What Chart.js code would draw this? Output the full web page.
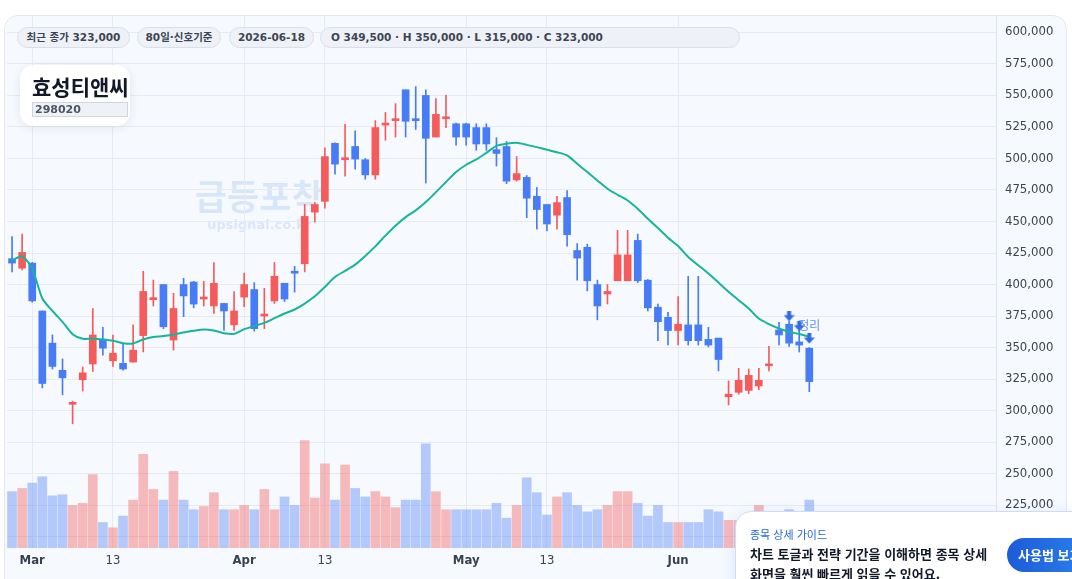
<!DOCTYPE html>
<html lang="ko">
<head>
<meta charset="utf-8">
<title>효성티앤씨 298020</title>
<script src="https://cdn.jsdelivr.net/npm/chart.js@4.4.1/dist/chart.umd.min.js"></script>
<style>
  html, body { margin: 0; padding: 0; }
  body { width: 1072px; height: 579px; overflow: hidden; position: relative; background: #fff;
         font-family: "DejaVu Sans", "Noto Sans CJK KR", sans-serif; }
  .card { position: absolute; left: 4px; top: 15px; width: 1063px; height: 620px; box-sizing: border-box;
          border: 1px solid #e3e8f0; border-radius: 14px; background: #f6f9fe; }
  .wm { position: absolute; left: 159px; top: 174px; width: 200px; text-align: center;
        color: rgba(59,130,246,0.16); font-weight: 700; }
  .wm .big { font-family: "Noto Sans CJK KR"; font-size: 35px; line-height: 41px; }
  .wm .small { font-family: "DejaVu Sans"; font-size: 13px; line-height: 16px; margin-top: 2px; }
  #chart { position: absolute; left: 0; top: 0; }
  .pill { position: absolute; top: 27px; height: 21px; box-sizing: border-box; border: 1px solid #d9dfe8;
          background: #eef2f7; border-radius: 11px; font-size: 10.5px; font-weight: 700; color: #3d4554;
          line-height: 19px; white-space: nowrap; text-align: center; }
  .title-box { position: absolute; left: 20px; top: 65px; width: 110px; height: 61px; border-radius: 14px;
               background: rgba(255,255,255,0.94); box-shadow: 0 2px 10px rgba(30,50,90,0.09); }
  .title-box .name { position: absolute; left: 12px; top: 9px; font-family: "Noto Sans CJK KR"; font-weight: 700;
                     font-size: 21px; line-height: 25px; color: #111827; }
  .title-box .code { position: absolute; left: 12px; top: 37px; width: 96px; height: 15px; box-sizing: border-box;
                     border: 1px solid #cfd6e0; background: #eef1f6; font-size: 11px; font-weight: 700;
                     color: #4b5565; line-height: 13px; padding-left: 2px; }
  .popup { position: absolute; left: 735px; top: 511px; width: 360px; height: 100px; box-sizing: border-box;
           background: #fff; border: 1px solid #cfdcf5; border-radius: 16px;
           box-shadow: 0 4px 16px rgba(37,99,235,0.13); font-family: "Noto Sans CJK KR"; }
  .popup .hd { position: absolute; left: 14px; top: 15px; font-size: 11px; line-height: 14px; color: #2563eb; }
  .popup .tx { position: absolute; left: 14px; top: 32px; font-size: 13px; line-height: 19.5px;
               font-weight: 700; color: #111827; white-space: nowrap; }
  .popup .btn { position: absolute; left: 271px; top: 26px; width: 110px; height: 34px; border-radius: 17px;
                background: linear-gradient(90deg, #1d5bd8, #2f8cf2); color: #fff; font-size: 13px;
                font-weight: 700; line-height: 34px; padding-left: 11px; box-sizing: border-box; }
</style>
</head>
<body>
<div class="card"></div>
<div class="wm"><div class="big">급등포착</div><div class="small">upsignal.co.kr</div></div>
<canvas id="chart" width="1072" height="579"></canvas>

<div class="pill" style="left:17px;width:113px">최근 종가 323,000</div>
<div class="pill" style="left:137px;width:84px">80일·신호기준</div>
<div class="pill" style="left:229px;width:85px">2026-06-18</div>
<div class="pill" style="left:320px;width:420px;text-align:left;padding-left:10px">O 349,500 · H 350,000 · L 315,000 · C 323,000</div>

<div class="title-box">
  <div class="name">효성티앤씨</div>
  <div class="code">298020</div>
</div>

<div class="popup">
  <div class="hd">종목 상세 가이드</div>
  <div class="tx">차트 토글과 전략 기간을 이해하면 종목 상세<br>화면을 훨씬 빠르게 읽을 수 있어요.</div>
  <div class="btn">사용법 보기</div>
</div>

<script>
/* ── 거래일 (80일) ── */
var dates = ['2026-02-26', '2026-02-27', '2026-03-03', '2026-03-04', '2026-03-05', '2026-03-06', '2026-03-09', '2026-03-10', '2026-03-11', '2026-03-12',
             '2026-03-13', '2026-03-16', '2026-03-17', '2026-03-18', '2026-03-19', '2026-03-20', '2026-03-23', '2026-03-24', '2026-03-25', '2026-03-26',
             '2026-03-27', '2026-03-30', '2026-03-31', '2026-04-01', '2026-04-02', '2026-04-03', '2026-04-06', '2026-04-07', '2026-04-08', '2026-04-09',
             '2026-04-10', '2026-04-13', '2026-04-14', '2026-04-15', '2026-04-16', '2026-04-17', '2026-04-20', '2026-04-21', '2026-04-22', '2026-04-23',
             '2026-04-24', '2026-04-27', '2026-04-28', '2026-04-29', '2026-04-30', '2026-05-01', '2026-05-04', '2026-05-05', '2026-05-06', '2026-05-07',
             '2026-05-08', '2026-05-11', '2026-05-12', '2026-05-13', '2026-05-14', '2026-05-15', '2026-05-18', '2026-05-19', '2026-05-20', '2026-05-21',
             '2026-05-22', '2026-05-25', '2026-05-26', '2026-05-27', '2026-05-28', '2026-05-29', '2026-06-01', '2026-06-02', '2026-06-03', '2026-06-04',
             '2026-06-05', '2026-06-08', '2026-06-09', '2026-06-10', '2026-06-11', '2026-06-12', '2026-06-15', '2026-06-16', '2026-06-17', '2026-06-18'];

/* ── 시가 / 고가 / 저가 / 종가 ── */
var opens  = [420500, 413000, 417000, 379000, 353500, 332000, 305000, 324500, 337000, 356500,
              339500, 337500, 338500, 359500, 388000, 400000, 356000, 400000, 402000, 388500,
              383000, 385000, 368000, 390000, 396000, 375000, 387000, 401000, 409500, 416500,
              457500, 466000, 512000, 499000, 509500, 499000, 487000, 526500, 530000, 554500,
              530500, 550000, 517000, 531500, 527500, 527500, 524500, 524500, 507000, 509500,
              483000, 485000, 470000, 463500, 455000, 469000, 427000, 429500, 400000, 392500,
              403000, 403000, 435000, 403500, 382000, 374000, 363500, 368000, 368000, 356500,
              357500, 311000, 314500, 316000, 319500, 335500, 364000, 368500, 354500, 349500];
var highs  = [438000, 440000, 417500, 379000, 360000, 341000, 307500, 334500, 381000, 366000,
              360000, 352500, 368000, 410500, 403500, 400000, 393000, 405000, 402500, 402500,
              417500, 385000, 394500, 409000, 401500, 397000, 417500, 401000, 414500, 463500,
              465000, 508500, 512500, 527000, 522000, 500000, 530000, 536500, 543500, 554500,
              557000, 554500, 547500, 550000, 528000, 528000, 527500, 527500, 516500, 513500,
              501500, 486500, 477000, 463500, 470000, 474500, 432500, 432000, 403500, 400000,
              443000, 443000, 440000, 404000, 384500, 378000, 390500, 406500, 406500, 366000,
              357500, 323500, 333500, 333000, 333500, 351000, 370000, 371000, 364000, 350000];
var lows   = [410000, 411500, 386000, 318000, 333000, 312500, 289500, 315500, 331000, 344000,
              335000, 332000, 338500, 346500, 383000, 365000, 348000, 374500, 381500, 383000,
              377000, 363500, 363500, 382500, 363000, 365000, 385000, 386500, 394000, 410000,
              449500, 460500, 487500, 486000, 491500, 483500, 483500, 514500, 517000, 517000,
              523000, 480500, 517000, 524500, 510500, 510500, 506500, 506500, 494000, 480000,
              482000, 453000, 444000, 442500, 444000, 430500, 403500, 395000, 372000, 384500,
              403000, 403000, 401500, 379000, 355500, 352000, 352000, 352000, 352000, 350500,
              331500, 304500, 313000, 313500, 316500, 331500, 352000, 351000, 346500, 315000];
var closes = [417000, 425500, 387000, 321500, 335000, 326000, 305500, 330000, 360000, 349500,
              345500, 333000, 348000, 394500, 388500, 366500, 381000, 391000, 384500, 389000,
              401000, 379000, 379000, 400000, 365000, 375500, 406500, 388500, 409000, 454000,
              463500, 501500, 495500, 499500, 499500, 487000, 524500, 527000, 530500, 529500,
              530000, 516000, 535000, 532000, 517000, 517000, 511500, 511500, 504000, 482000,
              488000, 468500, 459500, 448000, 465000, 439500, 421000, 403000, 383000, 394500,
              423500, 423500, 403000, 381500, 370500, 363500, 368500, 355500, 355500, 352000,
              340500, 313000, 324000, 328000, 324000, 336000, 360000, 353500, 352000, 323000];

/* ── 거래량 (만주) ── */
var volumes = [53, 56, 61, 67, 49, 50, 40, 42, 69, 24,
               19, 30, 45, 88, 55, 45, 72, 45, 36, 39,
               52, 36, 36, 40, 36, 55, 36, 48, 40, 101,
               47, 79, 45, 78, 56, 48, 53, 48, 38, 45,
               45, 98, 53, 36, 36, 36, 36, 36, 42, 28,
               40, 66, 52, 31, 48, 52, 40, 34, 36, 40,
               53, 53, 42, 30, 40, 24, 24, 24, 24, 36,
               34, 26, 26, 26, 40, 34, 28, 36, 34, 45];

/* ── 이동평균선 ── */
var maLine = [419200, 422400, 412600, 388900, 379100, 370400, 360600, 357000, 357000, 356400,
              355400, 353500, 353300, 356400, 358300, 359100, 360400, 362000, 363300, 364300,
              363500, 361400, 360900, 364600, 367000, 369600, 373300, 377000, 380200, 384900,
              390700, 398100, 406000, 410800, 415800, 422700, 430300, 438800, 446700, 453500,
              458800, 465400, 473300, 481300, 489200, 495000, 499200, 504500, 510000, 511600,
              512400, 510800, 509000, 506900, 505000, 502400, 495800, 489200, 482600, 476000,
              471200, 466700, 460100, 452200, 444800, 437200, 430500, 421900, 415300, 408700,
              401600, 394200, 387600, 381000, 373000, 368600, 365100, 362500, 360700, 358500];

/* ── 가격축 눈금 ── */
var priceTicks = [200000, 225000, 250000, 275000, 300000, 325000, 350000, 375000, 400000,
                  425000, 450000, 475000, 500000, 525000, 550000, 575000, 600000];

/* ── 신호 (화살표 / 라벨) ── */
var signalIdx   = [77, 78, 79];
var signalPrice = [374900, 367000, 357100];
var signalText  = '정리';
var signalTextIdx = 79;
var signalTextPrice = 367500;

var monthNames = ['Jan', 'Feb', 'Mar', 'Apr', 'May', 'Jun', 'Jul', 'Aug', 'Sep', 'Oct', 'Nov', 'Dec'];
var EMPTY_SLOTS = 18;

var UP = '#f65b5b', DOWN = '#477cf6';
var UP_VOL = 'rgba(246,91,91,0.40)', DOWN_VOL = 'rgba(71,124,246,0.38)';

function isUp(i) { return closes[i] >= opens[i]; }

// x축 라벨: 월 첫 거래일은 월 이름, 13일은 '13'
function tickText(i) {
  if (i >= dates.length) return '';
  var m = +dates[i].slice(5, 7), d = +dates[i].slice(8, 10);
  if (i > 0 && +dates[i - 1].slice(5, 7) !== m) return monthNames[m - 1];
  if (d === 13) return '13';
  return '';
}
function isMonthTick(i) {
  return i > 0 && i < dates.length && dates[i - 1].slice(5, 7) !== dates[i].slice(5, 7);
}

var axisLabels = dates.slice();
for (var k = 0; k < EMPTY_SLOTS; k++) axisLabels.push('');

var bodyData = opens.map(function(o, i) { return [o, closes[i]]; });
var wickData = lows.map(function(l, i) { return [l, highs[i]]; });
var candleColors = opens.map(function(_, i) { return isUp(i) ? UP : DOWN; });
var volColors = opens.map(function(_, i) { return isUp(i) ? UP_VOL : DOWN_VOL; });
var signalData = dates.map(function(_, i) {
  var p = signalIdx.indexOf(i);
  return p >= 0 ? signalPrice[p] : null;
});

// 아래 화살표 아이콘
function makeArrow() {
  var c = document.createElement('canvas');
  c.width = 11; c.height = 11;
  var g = c.getContext('2d');
  g.fillStyle = '#2f6be6';
  g.fillRect(3.5, 0, 4, 5);
  g.beginPath();
  g.moveTo(0, 4.5); g.lineTo(11, 4.5); g.lineTo(5.5, 10.5); g.closePath();
  g.fill();
  return c;
}

var signalLabelPlugin = {
  id: 'signalLabel',
  afterDatasetsDraw: function(chart) {
    var c = chart.ctx;
    var x = chart.scales.x.getPixelForValue(signalTextIdx);
    var y = chart.scales.y.getPixelForValue(signalTextPrice);
    c.save();
    c.font = '12px "Noto Sans CJK KR"';
    c.textAlign = 'center';
    c.textBaseline = 'middle';
    c.fillStyle = 'rgba(47,107,230,0.75)';
    c.fillText(signalText, x, y);
    c.restore();
  }
};

new Chart(document.getElementById('chart').getContext('2d'), {
  data: {
    labels: axisLabels,
    datasets: [{
      type: 'line', label: 'signal', data: signalData, order: 0,
      showLine: false, pointStyle: makeArrow(), pointRadius: 6, yAxisID: 'y'
    }, {
      type: 'line', label: 'MA', data: maLine, order: 1, yAxisID: 'y',
      borderColor: '#17b49c', borderWidth: 2, pointRadius: 0, tension: 0.25, fill: false
    }, {
      type: 'bar', label: 'body', data: bodyData, order: 2, yAxisID: 'y', grouped: false,
      backgroundColor: candleColors, barThickness: 7, minBarLength: 2
    }, {
      type: 'bar', label: 'wick', data: wickData, order: 3, yAxisID: 'y', grouped: false,
      backgroundColor: candleColors, barThickness: 1
    }, {
      type: 'bar', label: 'volume', data: volumes, order: 4, yAxisID: 'yv', grouped: false,
      backgroundColor: volColors, barThickness: 9
    }]
  },
  options: {
    responsive: false,
    animation: false,
    devicePixelRatio: 1,
    layout: { padding: { left: 4, top: 15, right: 0, bottom: 0 } },
    plugins: { legend: { display: false }, tooltip: { enabled: false } },
    scales: {
      x: {
        type: 'category', offset: true,
        grid: { offset: false, color: '#e6eaf1', drawTicks: false },
        border: { display: false },
        ticks: {
          autoSkip: false, maxRotation: 0, padding: 6, color: '#374151',
          font: function(ctx) {
            var i = ctx.tick ? ctx.tick.value : -1;
            return { family: 'DejaVu Sans', size: 11.7, weight: isMonthTick(i) ? 'bold' : 'normal' };
          },
          callback: function(v) { return tickText(v); }
        },
        afterBuildTicks: function(s) { s.ticks = s.ticks.filter(function(t) { return tickText(t.value); }); },
        afterFit: function(s) { s.height = 31; }
      },
      y: {
        position: 'right', min: 191000, max: 613000,
        grid: { color: '#e6eaf1', drawTicks: false },
        border: { color: '#e1e6ee' },
        ticks: {
          padding: 9, color: '#3d4451',
          font: { family: 'DejaVu Sans', size: 11.7 },
          callback: function(v) { return v.toLocaleString('en-US'); }
        },
        afterBuildTicks: function(s) { s.ticks = priceTicks.map(function(v) { return { value: v }; }); },
        afterFit: function(s) { s.width = 76; }
      },
      yv: { display: false, min: 0, max: 500 }
    }
  },
  plugins: [signalLabelPlugin]
});
</script>
</body>
</html>
